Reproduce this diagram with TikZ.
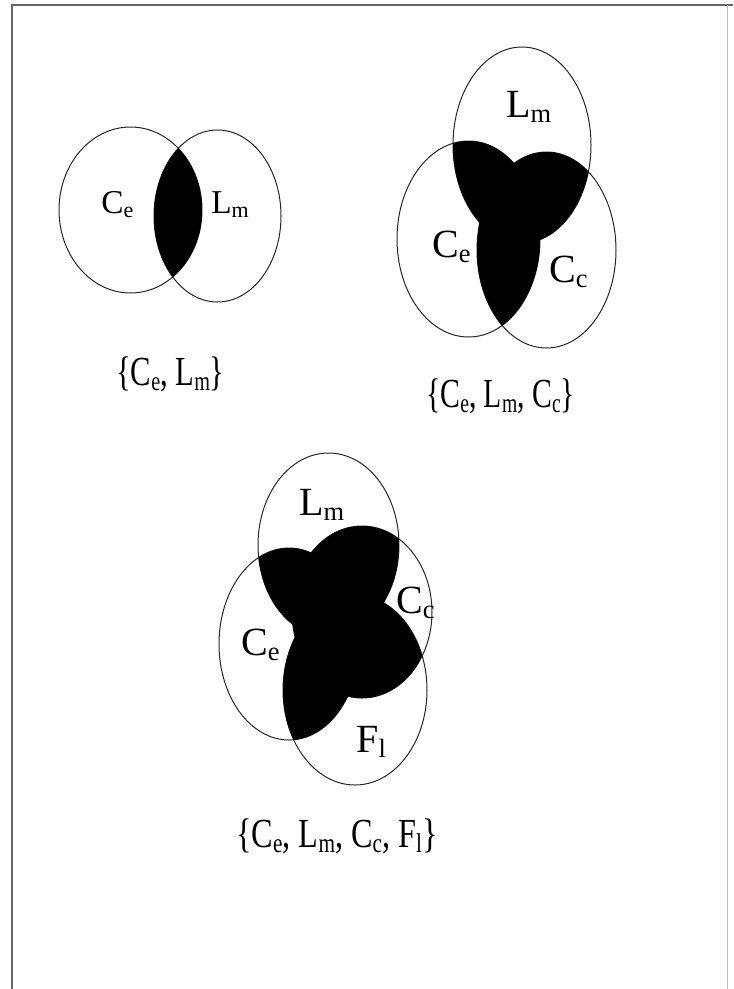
\documentclass[tikz,border=0pt]{standalone}
\usepackage{fontspec}
\setmainfont{Liberation Serif}
\usepackage{graphicx}
\newcommand\lsub[1]{\raisebox{-0.14em}{\scalebox{0.66}{#1}}}
\tikzset{
  venn/.style={draw=black!85, line width=0.75pt},
  lab/.style={inner sep=0pt, anchor=base west},
  smalllab/.style={lab, font=\fontsize{25}{29}\selectfont},
  biglab/.style={lab, font=\fontsize{30}{34}\selectfont},
  setlab/.style={lab, font=\fontsize{31}{36}\selectfont},
}
\begin{document}
\begin{tikzpicture}[x=0.75pt,y=-0.75pt]
\useasboundingbox (0,0) rectangle (733,989);
% frame
\draw[black!60, line width=1.5pt] (12,989) -- (12,5) -- (733,5);
\draw[black!25, line width=0.75pt] (727,5) -- (727,989);

% ---------- figure 1 ----------
\coordinate (A1) at (130.5,210);
\coordinate (B1) at (217.5,216);
\draw[venn] (A1) ellipse (71.5 and 83);
\draw[venn] (B1) ellipse (63.5 and 86);
\begin{scope}
  \clip (A1) ellipse (71.5 and 83);
  \fill (B1) ellipse (63.5 and 86);
\end{scope}
\node[smalllab] (a1lab) at (101,213) {C\lsub{e}};
\node[smalllab] (b1lab) at (211,213) {L\lsub{m}};
\node[setlab] (set1) at (116,385) {\scalebox{0.74}[1]{\{C\lsub{e}, L\lsub{m}\}}};

% ---------- figure 2 ----------
\coordinate (T2) at (522,145);
\coordinate (L2) at (468.5,239);
\coordinate (R2) at (546.5,250);
\draw[venn] (T2) ellipse (69 and 98);
\draw[venn] (L2) ellipse (71.5 and 98);
\draw[venn] (R2) ellipse (69.5 and 98);
\begin{scope}
  \clip (T2) ellipse (69 and 98);
  \fill (L2) ellipse (71.5 and 98);
  \fill (R2) ellipse (69.5 and 98);
\end{scope}
\begin{scope}
  \clip (L2) ellipse (71.5 and 98);
  \fill (R2) ellipse (69.5 and 98);
\end{scope}
\node[biglab] (t2lab) at (506,117) {L\lsub{m}};
\node[biglab] (l2lab) at (432,257) {C\lsub{e}};
\node[biglab] (r2lab) at (549,282) {C\lsub{c}};
\node[setlab] (set2) at (426,407) {\scalebox{0.72}[1]{\{C\lsub{e}, L\lsub{m}, C\lsub{c}\}}};

% ---------- figure 3 ----------
\coordinate (T3) at (328.5,545);
\coordinate (L3) at (289,644);
\coordinate (R3) at (362,612);
\coordinate (B3) at (355,690);
\draw[venn] (T3) ellipse (70.5 and 92);
\draw[venn] (L3) ellipse (70 and 96);
\draw[venn] (R3) ellipse (70 and 86);
\draw[venn] (B3) ellipse (72 and 95);
\begin{scope}
  \clip (T3) ellipse (70.5 and 92);
  \fill (L3) ellipse (70 and 96);
  \fill (R3) ellipse (70 and 86);
  \fill (B3) ellipse (72 and 95);
\end{scope}
\begin{scope}
  \clip (L3) ellipse (70 and 96);
  \fill (R3) ellipse (70 and 86);
  \fill (B3) ellipse (72 and 95);
\end{scope}
\begin{scope}
  \clip (R3) ellipse (70 and 86);
  \fill (B3) ellipse (72 and 95);
\end{scope}
\node[biglab] (t3lab) at (299,515) {L\lsub{m}};
\node[biglab] (r3lab) at (396,613) {C\lsub{c}};
\node[biglab] (l3lab) at (241,655) {C\lsub{e}};
\node[biglab] (b3lab) at (356,752) {F\lsub{l}};
\node[setlab] (set3) at (236,847) {\scalebox{0.78}[1]{\{C\lsub{e}, L\lsub{m}, C\lsub{c}, F\lsub{l}\}}};
\end{tikzpicture}
\end{document}
